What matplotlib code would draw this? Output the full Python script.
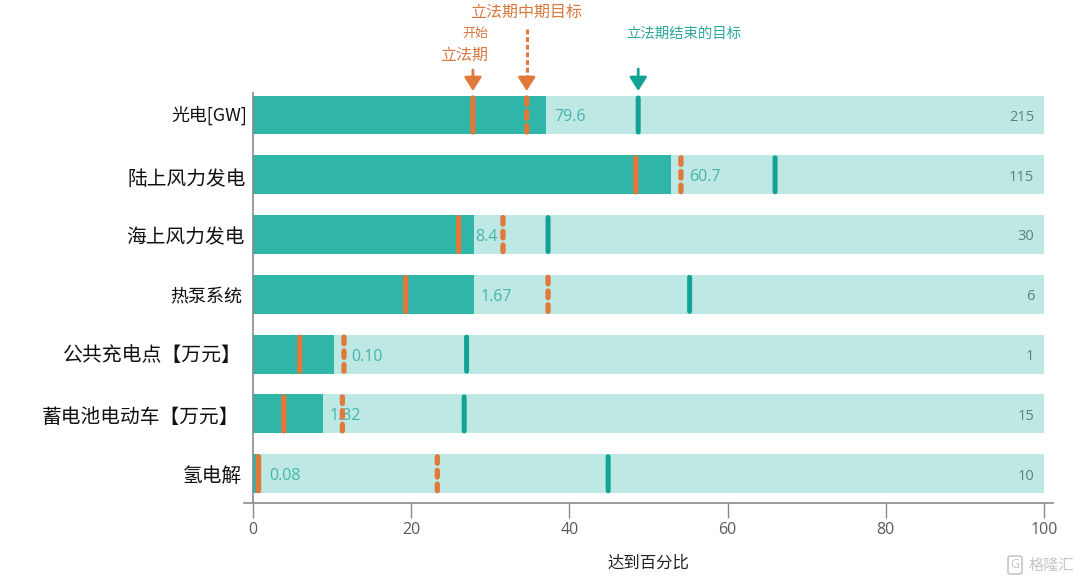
import matplotlib
matplotlib.use("Agg")
import matplotlib.pyplot as plt
from matplotlib.transforms import blended_transform_factory, ScaledTranslation

categories = ["光电[GW]", "陆上风力发电", "海上风力发电", "热泵系统",
              "公共充电点【万元】", "蓄电池电动车【万元】", "氢电解"]
achieved_pct = [37.0, 52.8, 28.0, 28.0, 10.2, 8.9, 0.8]
start_pct = [27.8, 48.4, 26.0, 19.3, 5.9, 3.9, 0.7]
mid_pct = [34.6, 54.1, 31.6, 37.3, 11.5, 11.3, 23.3]
end_pct = [48.7, 66.0, 37.3, 55.2, 27.0, 26.7, 44.9]
current_labels = ["79.6", "60.7", "8.4", "1.67", "0.10", "1.32", "0.08"]
target_labels = ["215", "115", "30", "6", "1", "15", "10"]
xticks = [0, 20, 40, 60, 80, 100]

W, H = 1080, 580
DARK, LIGHT = "#2fb6a9", "#bde8e3"
ORANGE, TEAL = "#e0793a", "#12a394"
LABEL_TEAL = "#45b5aa"
CJK = "Noto Sans CJK SC"
plt.rcParams["font.family"] = ["Open Sans", CJK]

fig = plt.figure(figsize=(W / 100, H / 100), dpi=100, facecolor="white")
ax = fig.add_axes([244 / W, 1 - 503 / H, (1053 - 244) / W, (503 - 92) / H])
ax.set_xlim(-1.14, 101.14)
ax.set_ylim(6.49, -0.385)

ys = list(range(len(categories)))
ax.barh(ys, [100] * len(ys), height=0.65, color=LIGHT, zorder=1)
ax.barh(ys, achieved_pct, height=0.65, color=DARK, zorder=2)

label_offset = [1.1, 2.3, 0.1, 0.8, 2.2, 0.8, 1.2]
for y, a, cur, tgt, off in zip(ys, achieved_pct, current_labels, target_labels, label_offset):
    ax.text(a + off, y + 0.04, cur, color=LABEL_TEAL, fontsize=11.5, va="center", ha="left", zorder=3)
    ax.text(98.75, y + 0.04, tgt, color="#5f7f7c", fontsize=10.5, va="center", ha="right", zorder=3)

half = 0.325
cap = 0.04
for y, s, m, e in zip(ys, start_pct, mid_pct, end_pct):
    ax.plot([s, s], [y - half + cap, y + half - cap], color=ORANGE, lw=3.8,
            solid_capstyle="round", zorder=4, snap=False)
    ax.plot([e, e], [y - half + cap, y + half - cap], color=TEAL, lw=3.6,
            solid_capstyle="round", zorder=4, snap=False)
    ax.plot([m, m], [y - half + cap, y + half - cap], color=ORANGE, lw=3.8,
            linestyle=(0, (1.25, 1.35)), dash_capstyle="round", zorder=4, snap=False)

for side in ("top", "right", "left"):
    ax.spines[side].set_visible(False)
ax.spines["bottom"].set_color("#8a8a8a")
ax.spines["bottom"].set_linewidth(1.2)
ax.axvline(0, color="#8a8a8a", lw=1.2, zorder=5)
ax.set_xticks(xticks)
ax.tick_params(axis="x", length=10.5, width=1, color="#8a8a8a", labelcolor="#5a5a5a", labelsize=11.5, pad=3.5)
ax.set_yticks(ys)
ax.set_yticklabels(categories, fontfamily=CJK, color="#111111")
ax.tick_params(axis="y", length=0, pad=1)
label_sizes = [12.9, 14.2, 14.2, 13, 14.3, 14.2, 14.2]
label_dx = [5, 3, 2, 0, -1, -3, -1]
label_dy = [-2, 2, 1, 0, -1, 1, 0]
for lab, size, dx, dy in zip(ax.get_yticklabels(), label_sizes, label_dx, label_dy):
    lab.set_fontsize(size)
    lab.set_transform(lab.get_transform() + ScaledTranslation(dx / 100, -dy / 100, fig.dpi_scale_trans))
ax.set_xlabel("达到百分比", fontfamily=CJK, fontsize=11.8, color="#222222", labelpad=12)

def fy(py):
    return 1 - py / H

trans = blended_transform_factory(ax.transData, fig.transFigure)

def arrow(x, top, color):
    ax.annotate("", xy=(x, fy(91)), xytext=(x, fy(top)), xycoords=trans, textcoords=trans,
                annotation_clip=False,
                arrowprops=dict(arrowstyle="-|>,head_width=0.52,head_length=0.82", color=color,
                                lw=2, shrinkA=0, shrinkB=0))

arrow(start_pct[0], 70, ORANGE)
arrow(mid_pct[0], 78, ORANGE)
ax.plot([mid_pct[0], mid_pct[0]], [fy(29), fy(79)], transform=trans, clip_on=False,
        color=ORANGE, lw=2.2, linestyle=(0, (1.6, 0.9)))
arrow(end_pct[0], 69, TEAL)

def head(px, py, s, color, size, ha="center"):
    fig.text(px / W, fy(py), s, color=color, fontsize=size, ha=ha, va="center", fontfamily=CJK)

head(526, 12, "立法期中期目标", "#d9773f", 11.5)
head(475, 33, "开始", "#d9773f", 9.4)
head(464, 55, "立法期", "#d9773f", 11.5)
head(684, 34, "立法期结束的目标", "#2ea89c", 10.4)
head(1051, 565, "格隆汇", "#c6c6c6", 11)
fig.text(1015 / W, fy(565), "G", color="#c6c6c6", fontsize=9, ha="center", va="center",
         bbox=dict(boxstyle="round,pad=0.2", fc="none", ec="#c6c6c6", lw=1.2))

fig.savefig("out.png", dpi=100, facecolor="white")
